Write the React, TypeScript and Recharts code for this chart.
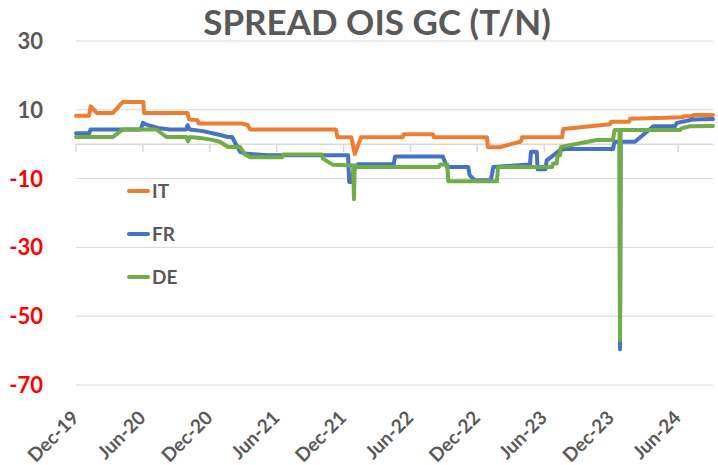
import { LineChart, Line, XAxis, YAxis, CartesianGrid, ReferenceLine } from "recharts";

// x = months since Dec-19, y = spread (bp)
const MONTH_TICKS = [0, 6, 12, 18, 24, 30, 36, 42, 48, 54];
const MONTH_LABELS = ["Dec-19", "Jun-20", "Dec-20", "Jun-21", "Dec-21", "Jun-22", "Dec-22", "Jun-23", "Dec-23", "Jun-24"];
const Y_TICKS = [30, 10, -10, -30, -50, -70];

const IT_POINTS: [number, number][] = [
  [0, 8.3], [1.17, 8.3], [1.32, 11.0], [1.86, 9.1], [3.32, 9.1], [4.19, 12.3], [6.04, 12.3],
  [6.1, 9.1], [10.0, 9.1], [10.15, 7.2], [10.9, 7.0], [11.0, 6.0], [14.8, 6.0], [15.4, 5.6],
  [15.6, 4.3], [23.3, 4.3], [23.45, 2.0], [24.7, 2.0], [25.0, -2.9], [25.56, 2.0], [29.3, 2.0],
  [29.4, 2.9], [32.0, 2.9], [32.1, 2.0], [36.85, 2.0], [36.95, -0.9], [38.0, -0.9], [39.9, 0.8],
  [40.0, 2.0], [43.6, 2.0], [43.7, 4.4], [47.9, 5.8], [48.0, 6.5], [49.6, 6.5], [49.7, 7.4],
  [54.4, 7.8], [54.5, 8.1], [55.3, 8.2], [55.4, 8.5], [57.13, 8.5],
];

const FR_POINTS: [number, number][] = [
  [0, 3.2], [1.2, 3.2], [1.3, 4.3], [5.8, 4.3], [6.0, 6.2], [6.46, 5.5], [7.35, 4.7], [8.43, 4.3],
  [9.9, 4.3], [10.0, 5.5], [10.2, 4.3], [11.39, 3.8], [12.74, 2.8], [13.63, 2.1], [14.0, 2.1],
  [14.71, -2.2], [15.16, -2.7], [15.87, -2.9], [17.13, -3.2], [24.4, -3.2], [24.5, -11.0],
  [24.75, -11.0], [24.85, -8.1], [25.29, -5.8], [28.5, -5.8], [28.61, -3.6], [32.9, -3.6],
  [33.27, -6.6], [35.18, -6.6], [35.3, -9.0], [35.78, -10.5], [37.2, -10.5], [37.43, -6.6],
  [40.72, -5.9], [40.8, -2.2], [41.32, -2.2], [41.4, -7.3], [42.1, -7.3], [42.22, -4.7],
  [42.78, -3.3], [43.41, -1.7], [43.86, -1.4], [48.16, -1.4], [48.3, 0.7], [48.75, 0.7],
  [48.79, -59.6], [48.85, 0.7], [50.13, 0.7], [51.78, 5.2], [53.72, 5.2], [53.9, 6.2],
  [55.34, 7.2], [57.13, 7.3],
];

const DE_POINTS: [number, number][] = [
  [0, 2.1], [3.32, 2.1], [4.19, 4.3], [7.2, 4.3], [7.5, 3.6], [8.1, 2.1], [9.9, 2.1], [10.04, 0.8],
  [10.22, 2.1], [11.12, 1.8], [12.0, 1.4], [12.9, 0.7], [13.63, -0.8], [14.71, -0.8], [15.16, -3.0],
  [15.61, -3.8], [18.5, -3.8], [18.57, -3.0], [22.04, -3.0], [22.15, -4.2], [23.05, -6.0],
  [24.85, -6.2], [24.93, -16.0], [25.0, -6.2], [25.3, -6.6], [32.55, -6.6], [32.65, -5.9],
  [33.3, -5.9], [33.39, -10.8], [37.75, -10.8], [37.85, -6.6], [42.7, -6.6], [42.78, -5.6],
  [43.11, -5.6], [43.2, -3.2], [43.41, -3.2], [43.5, -0.8], [46.7, 1.2], [48.16, 1.2], [48.3, 4.1],
  [48.75, 4.1], [48.79, -57.0], [48.85, 4.1], [54.17, 4.1], [54.3, 4.6], [55.07, 5.2], [57.13, 5.3],
];

const SERIES = [
  { name: "IT", color: "#ED7D31", points: IT_POINTS },
  { name: "FR", color: "#4472C4", points: FR_POINTS },
  { name: "DE", color: "#70AD47", points: DE_POINTS },
];

const FONT = "Lato, 'Open Sans', sans-serif";
const GREY = "#595959";
const GRID = "#d9d9d9";

function YTick({ y, payload }: any) {
  return (
    <text
      x={43}
      y={y}
      dy="0.36em"
      textAnchor="end"
      fill={payload.value < 0 ? "#ff0000" : GREY}
      fontSize={22}
      fontWeight={700}
      fontFamily={FONT}
    >
      {payload.value}
    </text>
  );
}

function XTick({ x, y, payload }: any) {
  const i = MONTH_TICKS.indexOf(payload.value);
  const tx = x + 4;
  const ty = y + 26;
  return (
    <text
      x={tx}
      y={ty}
      transform={`rotate(-45, ${tx}, ${ty})`}
      textAnchor="end"
      fill={GREY}
      fontSize={19}
      fontWeight={700}
      fontFamily={FONT}
    >
      {MONTH_LABELS[i]}
    </text>
  );
}

function LegendBox() {
  return (
    <div style={{ position: "absolute", left: 127, top: 169, fontFamily: FONT, zIndex: 2 }}>
      {SERIES.map((s) => (
        <div key={s.name} style={{ display: "flex", alignItems: "center", height: 43 }}>
          <span style={{ width: 23, height: 4, borderRadius: 2, background: s.color, marginRight: 2 }} />
          <span style={{ fontSize: 19, fontWeight: 700, color: GREY }}>{s.name}</span>
        </div>
      ))}
    </div>
  );
}

export default function App() {
  return (
    <div style={{ position: "absolute", left: 0, top: 0, width: 718, height: 465, background: "#fff" }}>
      <div
        style={{
          position: "absolute",
          left: 377,
          top: 0,
          transform: "translateX(-50%)",
          whiteSpace: "nowrap",
          fontFamily: FONT,
          fontWeight: 700,
          fontSize: 35,
          lineHeight: "42px",
          color: GREY,
          zIndex: 2,
        }}
      >
        SPREAD OIS GC (T/N)
      </div>
      <LegendBox />
      <LineChart width={718} height={465} margin={{ top: 41, right: 5, bottom: 20, left: 0 }}>
        <CartesianGrid vertical={false} stroke={GRID} strokeWidth={1} />
        <XAxis
          type="number"
          dataKey="m"
          domain={[0, 57.13]}
          ticks={MONTH_TICKS}
          interval={0}
          height={60}
          axisLine={false}
          tickLine={false}
          tick={<XTick />}
        />
        <YAxis
          type="number"
          domain={[-70, 30]}
          ticks={Y_TICKS}
          interval={0}
          width={76}
          axisLine={false}
          tickLine={false}
          tick={<YTick />}
        />
        <ReferenceLine y={0} stroke={GRID} strokeWidth={1.5} />
        {MONTH_TICKS.map((t) => (
          <ReferenceLine
            key={t}
            segment={[{ x: t, y: 0 }, { x: t, y: -2.3 }]}
            stroke={GRID}
            strokeWidth={1.5}
          />
        ))}
        {SERIES.map((s) => (
          <Line
            key={s.name}
            data={s.points.map(([m, v]) => ({ m, v }))}
            dataKey="v"
            name={s.name}
            type="linear"
            stroke={s.color}
            strokeWidth={4}
            strokeLinecap="round"
            strokeLinejoin="round"
            dot={false}
            activeDot={false}
            isAnimationActive={false}
          />
        ))}
      </LineChart>
    </div>
  );
}
